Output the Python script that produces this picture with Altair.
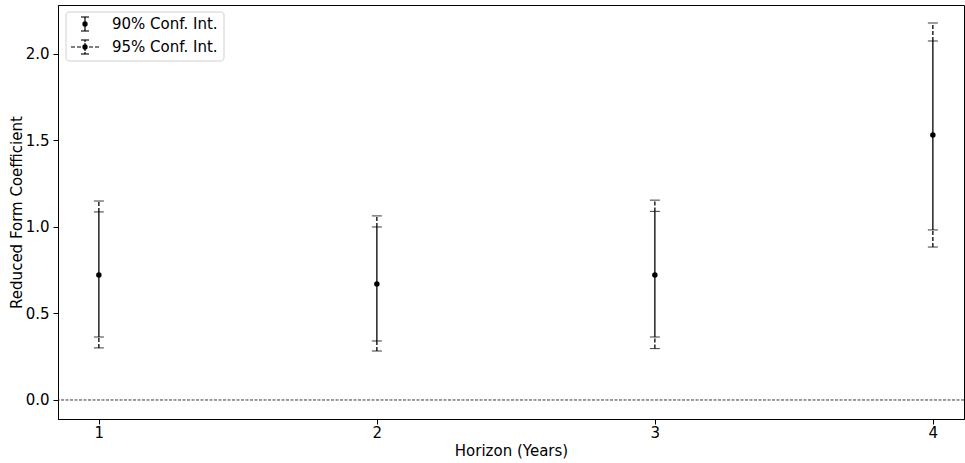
import altair as alt
import pandas as pd

horizon = [1, 2, 3, 4]
coef = [0.723, 0.671, 0.723, 1.532]
lo90 = [0.364, 0.341, 0.364, 0.983]
hi90 = [1.087, 1.000, 1.090, 2.075]
lo95 = [0.301, 0.283, 0.297, 0.884]
hi95 = [1.150, 1.064, 1.155, 2.179]

df = pd.DataFrame({"horizon": horizon, "coef": coef, "lo90": lo90, "hi90": hi90,
                   "lo95": lo95, "hi95": hi95})

FONT = "DejaVu Sans"
xs = alt.Scale(domain=[0.853, 4.112], nice=False, zero=False)
ys = alt.Scale(domain=[-0.11, 2.283], nice=False, zero=False)

X = alt.X("horizon:Q", scale=xs, title="Horizon (Years)",
          axis=alt.Axis(values=[1, 2, 3, 4], format="d", grid=False, labelPadding=1, titlePadding=3))
Y_axis = alt.Axis(values=[0, 0.5, 1.0, 1.5, 2.0], format=".1f", grid=False, titlePadding=1)

base = alt.Chart(df)

zero = alt.Chart(pd.DataFrame({"z": [0]})).mark_rule(
    color="#222222", strokeWidth=0.9, strokeDash=[3, 1.5]
).encode(y=alt.Y("z:Q", scale=ys))

solid = base.mark_rule(color="black", strokeWidth=1.3).encode(
    x=X, y=alt.Y("lo90:Q", scale=ys, title="Reduced Form Coefficient", axis=Y_axis),
    y2="hi90:Q")
dash_lo = base.mark_rule(color="black", strokeWidth=1.3, strokeDash=[4, 2]).encode(
    x=alt.X("horizon:Q", scale=xs), y=alt.Y("lo95:Q", scale=ys), y2="lo90:Q")
dash_hi = base.mark_rule(color="black", strokeWidth=1.3, strokeDash=[4, 2]).encode(
    x=alt.X("horizon:Q", scale=xs), y=alt.Y("hi90:Q", scale=ys), y2="hi95:Q")

caps = base.transform_fold(["lo90", "hi90", "lo95", "hi95"], as_=["k", "v"]).mark_tick(
    orient="horizontal", color="black", size=10, thickness=1.1
).encode(x=alt.X("horizon:Q", scale=xs), y=alt.Y("v:Q", scale=ys))

pts = base.mark_circle(color="black", size=30, opacity=1).encode(
    x=alt.X("horizon:Q", scale=xs), y=alt.Y("coef:Q", scale=ys))

one = pd.DataFrame({"a": [0]})
lg = alt.Chart(one)
leg_box = lg.mark_rect(fill="white", stroke="#cccccc", strokeWidth=1, cornerRadius=3,
                       opacity=0.9).encode(
    x=alt.value(8), x2=alt.value(166), y=alt.value(7), y2=alt.value(56))
leg_items = []
for yc, dashed in [(19, False), (42, True)]:
    if dashed:
        leg_items.append(lg.mark_rule(color="black", strokeWidth=1.2, strokeDash=[4, 2]).encode(
            x=alt.value(13), x2=alt.value(41), y=alt.value(yc)))
    leg_items.append(lg.mark_rule(color="black", strokeWidth=1.2,
                                  strokeDash=[2, 1] if dashed else [1, 0]).encode(
        x=alt.value(27), y=alt.value(yc - 7), y2=alt.value(yc + 7)))
    for dy in (-7, 7):
        leg_items.append(lg.mark_rule(color="black", strokeWidth=1.1).encode(
            x=alt.value(23), x2=alt.value(31), y=alt.value(yc + dy)))
    leg_items.append(lg.mark_circle(color="black", size=28, opacity=1).encode(
        x=alt.value(27), y=alt.value(yc)))
leg_text = alt.Chart(pd.DataFrame({"t": ["90% Conf. Int.", "95% Conf. Int."],
                                   "yy": [19, 42]})).mark_text(
    align="left", baseline="middle", font=FONT, fontSize=15, color="black"
).encode(x=alt.value(54), y=alt.Y("yy:Q", scale=None), text="t:N")

chart = alt.layer(zero, dash_lo, dash_hi, solid, caps, pts, leg_box, *leg_items, leg_text).properties(
    width=906, height=414,
    autosize=alt.AutoSizeParams(type="none"),
    padding={"left": 58, "top": 5, "right": 1, "bottom": 44},
).configure_view(stroke="black", strokeWidth=1).configure_axis(
    labelFont=FONT, titleFont=FONT, labelFontSize=15, titleFontSize=15,
    labelColor="black", titleColor="black", domainColor="black", tickColor="black",
    tickSize=5, domainWidth=1, titleFontWeight="normal", labelPadding=4
)

chart.save("out.html", embed_options={"renderer": "svg", "actions": False})
